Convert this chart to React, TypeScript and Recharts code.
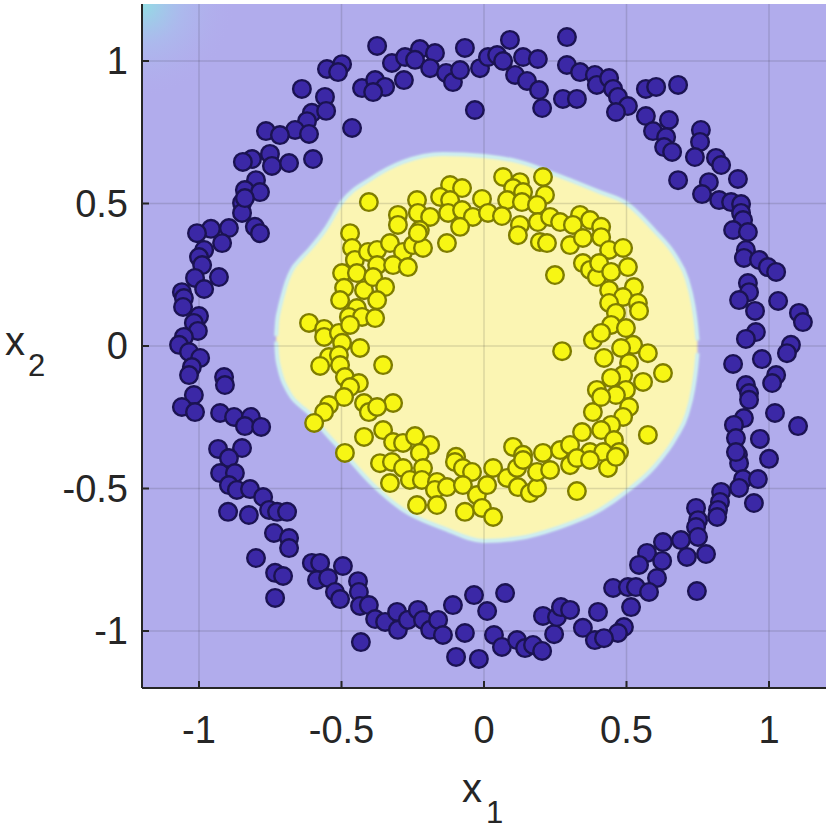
import {
  Area,
  CartesianGrid,
  ComposedChart,
  ReferenceArea,
  ReferenceLine,
  Scatter,
  XAxis,
  YAxis,
} from 'recharts';

// tick positions on both axes
const ticks = [-1, -0.5, 0, 0.5, 1];

// class 1: outer ring (purple)
const outerRing: [number, number][] = [
  [-0.551, 0.972], [-0.498, 0.989], [-0.512, 0.961], [-0.639, 0.902], [-0.558, 0.874],
  [-0.428, 0.905], [-0.604, 0.818], [-0.554, 0.825], [-0.621, 0.789], [-0.663, 0.758],
  [-0.614, 0.744], [-0.765, 0.754], [-0.716, 0.74], [-0.463, 0.765], [-0.751, 0.674],
  [-0.814, 0.656], [-0.846, 0.646], [-0.744, 0.632], [-0.684, 0.642], [-0.6, 0.656],
  [-0.8, 0.582], [-0.839, 0.547], [-0.786, 0.54], [-0.849, 0.502], [-0.849, 0.467],
  [-0.839, 0.519], [-0.958, 0.411], [-0.895, 0.414], [-1.007, 0.396], [-0.804, 0.418],
  [-0.786, 0.396], [-0.375, 1.053], [-0.323, 0.993], [-0.277, 1.014], [-0.225, 1.042],
  [-0.242, 1.004], [-0.172, 1.028], [-0.189, 0.975], [-0.281, 0.933], [-0.382, 0.933],
  [-0.347, 0.909], [-0.389, 0.891], [-0.133, 0.958], [-0.109, 0.926], [-0.084, 0.968],
  [-0.067, 1.046], [-0.014, 0.975], [0.014, 1.014], [0.046, 1.021], [0.067, 1.0],
  [0.091, 1.074], [0.109, 0.951], [0.137, 1.014], [0.151, 0.93], [0.189, 1.007],
  [0.193, 0.898], [0.204, 0.835], [-0.032, 0.828], [0.291, 1.084], [0.291, 0.986],
  [0.337, 0.961], [0.389, 0.951], [0.396, 0.916], [0.277, 0.867], [0.326, 0.867],
  [0.439, 0.94], [0.453, 0.902], [0.47, 0.874], [0.505, 0.842], [0.463, 0.821],
  [0.568, 0.902], [0.604, 0.909], [0.681, 0.916], [0.568, 0.807], [0.649, 0.793],
  [0.593, 0.754], [0.639, 0.733], [0.632, 0.698], [0.66, 0.681], [0.761, 0.758],
  [0.758, 0.716], [0.74, 0.663], [0.814, 0.66], [0.832, 0.635], [0.681, 0.582],
  [0.789, 0.575], [0.891, 0.586], [0.765, 0.533], [0.825, 0.512], [0.867, 0.505],
  [0.902, 0.498], [0.902, 0.467], [0.909, 0.442], [0.874, 0.407], [0.926, 0.4],
  [-0.919, 0.361], [-0.982, 0.337], [-1.0, 0.312], [-0.989, 0.284], [-1.014, 0.239],
  [-0.93, 0.242], [-0.982, 0.2], [-1.06, 0.189], [-1.053, 0.168], [-1.056, 0.137],
  [-1.0, 0.105], [-1.018, 0.081], [-1.004, 0.053], [-1.053, 0.032], [-1.07, 0.004],
  [-1.035, -0.021], [-0.996, -0.042], [-1.025, -0.074], [-1.035, -0.102], [-0.912, -0.109],
  [-0.909, -0.137], [-1.018, -0.172], [-1.06, -0.214], [-1.014, -0.232], [-0.926, -0.235],
  [-0.877, -0.249], [-0.818, -0.249], [-0.839, -0.281], [-0.782, -0.284], [-0.933, -0.361],
  [-0.849, -0.358], [-0.895, -0.393], [-0.926, -0.446], [-0.874, -0.446], [-0.895, -0.488],
  [-0.867, -0.505], [-0.821, -0.502], [-0.775, -0.53], [-0.754, -0.575], [-0.726, -0.582],
  [-0.691, -0.582], [-0.898, -0.582], [-0.825, -0.593], [-0.737, -0.656], [-0.684, -0.674],
  [-0.684, -0.709], [-0.8, -0.744], [-0.604, -0.761], [-0.575, -0.761], [-0.495, -0.772],
  [-0.733, -0.796], [-0.705, -0.807], [-0.586, -0.821], [-0.547, -0.814], [-0.442, -0.825],
  [-0.523, -0.863], [-0.505, -0.888], [-0.439, -0.863], [-0.435, -0.912], [-0.404, -0.909],
  [-0.733, -0.884], [-0.432, -1.039], [-0.382, -0.958], [-0.347, -0.968], [-0.305, -0.933],
  [-0.302, -0.996], [-0.267, -0.961], [-0.232, -0.926], [-0.214, -0.961], [-0.189, -0.996],
  [-0.161, -0.961], [-0.144, -1.014], [-0.109, -0.909], [-0.067, -1.007], [-0.098, -1.091],
  [-0.035, -0.874], [0.011, -0.93], [-0.018, -1.098], [0.074, -0.867], [0.035, -1.014],
  [0.063, -1.056], [0.116, -1.032], [0.144, -1.06], [0.172, -1.049], [0.204, -1.07],
  [0.207, -0.947], [0.246, -1.011], [0.256, -0.951], [0.27, -0.916], [0.302, -0.926],
  [0.347, -0.989], [0.389, -1.032], [0.4, -0.933], [0.891, -0.382], [0.895, -0.411],
  [1.0, -0.396], [0.909, -0.467], [0.895, -0.498], [0.961, -0.467], [0.947, -0.551],
  [0.832, -0.512], [0.828, -0.547], [0.821, -0.575], [0.818, -0.6], [0.744, -0.568],
  [0.751, -0.611], [0.744, -0.635], [0.751, -0.67], [0.691, -0.681], [0.628, -0.688],
  [0.779, -0.73], [0.712, -0.74], [0.572, -0.726], [0.625, -0.754], [0.544, -0.768],
  [0.607, -0.814], [0.453, -0.849], [0.505, -0.846], [0.533, -0.846], [0.579, -0.863],
  [0.516, -0.916], [0.747, -0.86], [0.491, -0.986], [0.47, -1.007], [0.421, -1.025],
  [0.919, 0.337], [0.912, 0.309], [0.965, 0.302], [0.996, 0.277], [1.025, 0.26],
  [0.926, 0.221], [0.93, 0.189], [0.895, 0.161], [1.032, 0.158], [0.951, 0.123],
  [1.105, 0.116], [1.119, 0.084], [0.954, 0.049], [0.919, 0.025], [1.077, 0.004],
  [1.063, -0.025], [0.874, -0.063], [0.975, -0.046], [1.025, -0.102], [1.011, -0.13],
  [0.919, -0.137], [0.93, -0.165], [0.93, -0.189], [1.021, -0.235], [1.102, -0.281],
  [0.912, -0.253], [0.877, -0.277], [0.884, -0.323], [0.968, -0.326], [0.884, -0.372],
];

// class 2: inner ring (yellow)
const innerRing: [number, number][] = [
  [-0.404, 0.505], [-0.47, 0.396], [0.067, 0.593], [0.207, 0.593], [0.126, 0.575],
  [-0.119, 0.565], [-0.077, 0.554], [0.102, 0.554], [0.137, 0.54], [0.214, 0.53],
  [-0.235, 0.512], [-0.154, 0.523], [-0.007, 0.516], [0.081, 0.512], [0.133, 0.505],
  [0.186, 0.495], [-0.119, 0.512], [-0.302, 0.46], [-0.232, 0.467], [-0.189, 0.453],
  [-0.126, 0.467], [-0.077, 0.477], [-0.039, 0.453], [0.014, 0.467], [0.063, 0.456],
  [0.189, 0.435], [0.232, 0.453], [0.267, 0.435], [0.337, 0.46], [0.372, 0.442],
  [-0.302, 0.425], [-0.225, 0.407], [-0.084, 0.418], [0.126, 0.425], [0.312, 0.425],
  [0.411, 0.418], [-0.463, 0.344], [-0.453, 0.302], [-0.407, 0.33], [-0.498, 0.256],
  [-0.446, 0.256], [-0.491, 0.204], [-0.421, 0.196], [-0.505, 0.161], [-0.446, 0.133],
  [-0.474, 0.102], [-0.428, 0.102], [-0.614, 0.081], [-0.561, 0.06], [-0.561, 0.032],
  [-0.509, 0.046], [-0.47, 0.074], [-0.498, 0.011], [-0.435, -0.007], [-0.544, -0.039],
  [-0.509, -0.032], [-0.575, -0.07], [-0.505, -0.067], [-0.488, -0.109], [-0.439, -0.13],
  [-0.47, -0.144], [-0.491, -0.179], [-0.421, -0.2], [-0.544, -0.207], [-0.561, -0.232],
  [-0.596, -0.27], [-0.404, -0.232], [-0.421, -0.319], [-0.488, -0.375], [-0.375, 0.337],
  [-0.33, 0.361], [-0.284, 0.33], [-0.249, 0.354], [-0.214, 0.344], [-0.232, 0.396],
  [-0.13, 0.361], [-0.375, 0.284], [-0.319, 0.284], [-0.267, 0.277], [-0.389, 0.242],
  [-0.347, 0.207], [-0.375, 0.161], [-0.382, 0.098], [-0.354, -0.067], [-0.319, -0.2],
  [-0.375, -0.214], [-0.354, -0.295], [-0.319, -0.337], [-0.284, -0.34], [-0.242, -0.316],
  [-0.189, -0.347], [-0.225, -0.375], [-0.098, -0.389], [0.119, 0.389], [0.196, 0.365],
  [0.221, 0.361], [0.302, 0.354], [0.347, 0.379], [0.347, 0.291], [0.372, 0.267],
  [0.249, 0.249], [0.396, 0.242], [0.274, -0.018], [0.382, 0.021], [0.396, -0.154],
  [0.382, -0.232], [0.344, -0.302], [0.102, -0.354], [0.137, -0.382], [0.207, -0.375],
  [0.267, -0.365], [0.302, -0.347], [0.372, -0.372], [0.411, 0.382], [0.439, 0.337],
  [0.488, 0.344], [0.404, 0.291], [0.446, 0.26], [0.505, 0.277], [0.439, 0.196],
  [0.526, 0.207], [0.488, 0.172], [0.439, 0.151], [0.54, 0.151], [0.544, 0.123],
  [0.463, 0.116], [0.446, 0.074], [0.498, 0.063], [0.411, 0.046], [0.523, 0.004],
  [0.481, -0.007], [0.575, -0.025], [0.421, -0.042], [0.509, -0.06], [0.488, -0.102],
  [0.446, -0.112], [0.628, -0.095], [0.558, -0.126], [0.498, -0.154], [0.463, -0.172],
  [0.411, -0.179], [0.509, -0.214], [0.488, -0.249], [0.446, -0.277], [0.411, -0.295],
  [0.575, -0.312], [0.456, -0.33], [0.474, -0.372], [0.418, -0.372], [-0.365, -0.411],
  [-0.323, -0.407], [-0.284, -0.428], [-0.33, -0.481], [-0.26, -0.47], [-0.214, -0.428],
  [-0.218, -0.47], [-0.165, -0.477], [-0.172, -0.505], [-0.13, -0.495], [-0.235, -0.558],
  [-0.165, -0.558], [-0.102, -0.407], [-0.074, -0.428], [-0.042, -0.442], [-0.074, -0.488],
  [-0.025, -0.523], [-0.067, -0.582], [-0.007, -0.568], [0.032, -0.6], [0.011, -0.488],
  [0.032, -0.428], [0.081, -0.463], [0.116, -0.428], [0.137, -0.4], [0.119, -0.495],
  [0.161, -0.516], [0.186, -0.498], [0.186, -0.442], [0.232, -0.435], [0.302, -0.418],
  [0.326, -0.393], [0.372, -0.4], [0.326, -0.509], [0.435, -0.428], [0.463, -0.389],
];

// decision region boundary (yellow class), sampled along x1
const boundaryX = [
  -0.729, -0.726, -0.719, -0.708, -0.692, -0.674, -0.644, -0.614, -0.558, -0.498,
  -0.393, -0.284, -0.144, 0, 0.126, 0.256, 0.407, 0.498, 0.596, 0.674,
  0.712, 0.734, 0.744, 0.749,
];
const boundaryTop = [
  0.035, 0.085, 0.125, 0.17, 0.225, 0.267, 0.305, 0.337, 0.407, 0.505,
  0.589, 0.646, 0.674, 0.667, 0.646, 0.6, 0.54, 0.502, 0.407, 0.312,
  0.235, 0.145, 0.075, 0.02,
];
const boundaryBottom = [
  0.015, -0.035, -0.075, -0.115, -0.15, -0.18, -0.21, -0.235, -0.302, -0.368,
  -0.484, -0.575, -0.639, -0.684, -0.674, -0.639, -0.575, -0.512, -0.425, -0.319,
  -0.24, -0.15, -0.08, -0.025,
];

const regionData = boundaryX.map((x, i) => ({
  x,
  band: [boundaryBottom[i], boundaryTop[i]],
}));
const outerData = outerRing.map(([x, y]) => ({ x, y }));
const innerData = innerRing.map(([x, y]) => ({ x, y }));

const font = '"Liberation Sans", Arial, Helvetica, sans-serif';
const ink = '#262626';

const XLabel = ({ viewBox }: any) => {
  const cx = viewBox.x + viewBox.width / 2;
  return (
    <text x={cx - 22} y={viewBox.y + 114} fill={ink} fontFamily={font} fontSize={40}>
      x
      <tspan fontSize={31} dx={4} dy={21}>
        1
      </tspan>
    </text>
  );
};

const YLabel = ({ viewBox }: any) => {
  const cy = viewBox.y + viewBox.height / 2;
  return (
    <text x={5} y={cy + 9} fill={ink} fontFamily={font} fontSize={40}>
      x
      <tspan fontSize={31} dx={3} dy={21}>
        2
      </tspan>
    </text>
  );
};

const dot = (fill: string, stroke: string) => (props: any) => (
  <circle cx={props.cx} cy={props.cy} r={8.8} fill={fill} stroke={stroke} strokeWidth={2.4} />
);

export default function App() {
  return (
    <div style={{ position: 'absolute', left: 0, top: 0 }}>
      <ComposedChart
        width={830}
        height={835}
        data={regionData}
        margin={{ top: 4, right: 4, left: 0, bottom: 0 }}
      >
        <defs>
          <radialGradient id="cornerGlow" cx="0" cy="0" r="1">
            <stop offset="0%" stopColor="#8ee4e2" stopOpacity={0.9} />
            <stop offset="45%" stopColor="#a6c8ee" stopOpacity={0.45} />
            <stop offset="100%" stopColor="#b4b0ee" stopOpacity={0} />
          </radialGradient>
          <filter id="soft" x="-5%" y="-5%" width="110%" height="110%">
            <feGaussianBlur stdDeviation="1.2" />
          </filter>
        </defs>
        <CartesianGrid fill="#b1acec" fillOpacity={1} stroke="none" />
        <ReferenceArea
          x1={-1.2}
          x2={-0.88}
          y1={0.88}
          y2={1.2}
          fill="url(#cornerGlow)"
          fillOpacity={1}
          stroke="none"
        />
        <XAxis
          type="number"
          dataKey="x"
          domain={[-1.2, 1.2]}
          ticks={ticks}
          allowDataOverflow
          height={147}
          tickSize={-7}
          tickMargin={35}
          axisLine={{ stroke: ink, strokeWidth: 2 }}
          tickLine={{ stroke: ink, strokeWidth: 2 }}
          tick={{ fill: ink, fontSize: 38, fontFamily: font }}
          label={{ content: XLabel }}
        />
        <YAxis
          type="number"
          dataKey="y"
          domain={[-1.2, 1.2]}
          ticks={ticks}
          allowDataOverflow
          width={142}
          tickSize={-7}
          tickMargin={21}
          axisLine={{ stroke: ink, strokeWidth: 2 }}
          tickLine={{ stroke: ink, strokeWidth: 2 }}
          tick={{ fill: ink, fontSize: 38, fontFamily: font }}
          label={{ content: YLabel }}
        />
        <Area
          dataKey="band"
          type="monotone"
          fill="#fbf5b3"
          fillOpacity={1}
          stroke="#cdf0f2"
          strokeWidth={4}
          filter="url(#soft)"
          dot={false}
          activeDot={false}
          isAnimationActive={false}
        />
        {ticks.map((t) => (
          <ReferenceLine key={`gx${t}`} x={t} stroke={ink} strokeOpacity={0.15} strokeWidth={1.5} />
        ))}
        {ticks.map((t) => (
          <ReferenceLine key={`gy${t}`} y={t} stroke={ink} strokeOpacity={0.15} strokeWidth={1.5} />
        ))}
        <Scatter
          data={outerData}
          shape={dot('#3b28a6', '#1b1352')}
          isAnimationActive={false}
        />
        <Scatter
          data={innerData}
          shape={dot('#f7f614', '#7f7d00')}
          isAnimationActive={false}
        />
      </ComposedChart>
    </div>
  );
}
